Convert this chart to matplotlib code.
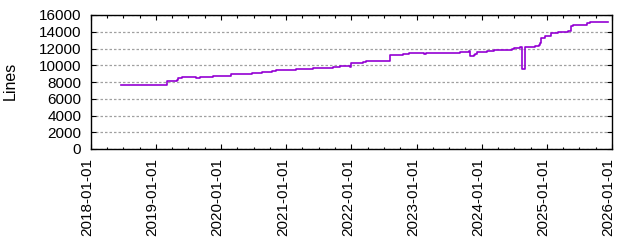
import matplotlib
matplotlib.use("Agg")
import matplotlib.pyplot as plt
import matplotlib.dates as mdates
import matplotlib.transforms as mtransforms
import numpy as np

# step data (date of change, line count after it)
dates = ["2018-06-20", "2019-03-03", "2019-05-01", "2019-05-06", "2019-05-27",
         "2019-08-11", "2019-09-04", "2019-11-15", "2020-02-25", "2020-06-22",
         "2020-08-17", "2020-10-14", "2020-11-01", "2021-02-24", "2021-05-28",
         "2021-09-19", "2021-10-30", "2021-12-25", "2021-12-31", "2022-03-06",
         "2022-03-21", "2022-08-04", "2022-10-16", "2022-11-22", "2023-02-10",
         "2023-02-24", "2023-08-30", "2023-10-22", "2023-10-27", "2023-11-21",
         "2023-11-27", "2023-12-04", "2024-01-29", "2024-03-10", "2024-06-17",
         "2024-06-28", "2024-08-05", "2024-08-16", "2024-08-29", "2024-10-24",
         "2024-11-19", "2024-11-25", "2024-12-01", "2024-12-19", "2025-01-22",
         "2025-03-03", "2025-04-28", "2025-05-15", "2025-05-26", "2025-08-12",
         "2025-08-29", "2025-12-09"]
lines = [7630, 8110, 8270, 8500, 8620,
         8500, 8620, 8710, 8950, 9070,
         9190, 9310, 9430, 9550, 9670,
         9790, 9910, 9790, 10270, 10390,
         10510, 11230, 11350, 11470, 11350,
         11470, 11580, 11700, 11110, 11230,
         11350, 11580, 11700, 11820, 11940,
         12060, 12180, 9580, 12180, 12300,
         12420, 12660, 13260, 13500, 13860,
         13980, 14100, 14700, 14820, 15060,
         15180, 15180]

x = np.array(dates, dtype="datetime64[D]")

plt.rcParams['font.family'] = ['Liberation Sans', 'DejaVu Sans']
fig = plt.figure(figsize=(6.4, 2.4), dpi=100)
ax = fig.add_axes([91 / 640, 1 - 149 / 240, (612 - 91) / 640, (149 - 15) / 240])

ax.plot(x, lines, drawstyle='steps-post', color='#9400d3', lw=1.2)

ax.set_xlim(np.datetime64("2018-01-01"), np.datetime64("2026-01-01"))
ax.set_ylim(0, 16000)
ax.set_yticks(range(0, 16001, 2000))
ax.xaxis.set_major_locator(mdates.YearLocator())
ax.xaxis.set_minor_locator(mdates.MonthLocator(bymonth=[4, 7, 10]))
ax.xaxis.set_major_formatter(mdates.DateFormatter('%Y-%m-%d'))

ax.tick_params(which='both', direction='in', top=True, right=True, labelsize=11, width=0.8)
ax.tick_params(which='major', length=3.5)
ax.tick_params(which='minor', length=1.8)
ax.tick_params(axis='x', which='major', pad=6.7)
ax.tick_params(axis='y', which='major', pad=7)
shift = mtransforms.ScaledTranslation(-3.5 / 100, 0, fig.dpi_scale_trans)
for lbl in ax.get_xticklabels():
    lbl.set_rotation(90)
    lbl.set_transform(lbl.get_transform() + shift)

ax.grid(axis='y', color='#a0a0a0', linestyle=(0, (2, 1.6)), lw=0.9)
for s in ax.spines.values():
    s.set_linewidth(1.0)
ax.set_ylabel('Lines', fontsize=11.5)
ax.yaxis.set_label_coords(18 / 640, 1 - 81 / 240, transform=fig.transFigure)

fig.savefig('out.png')
